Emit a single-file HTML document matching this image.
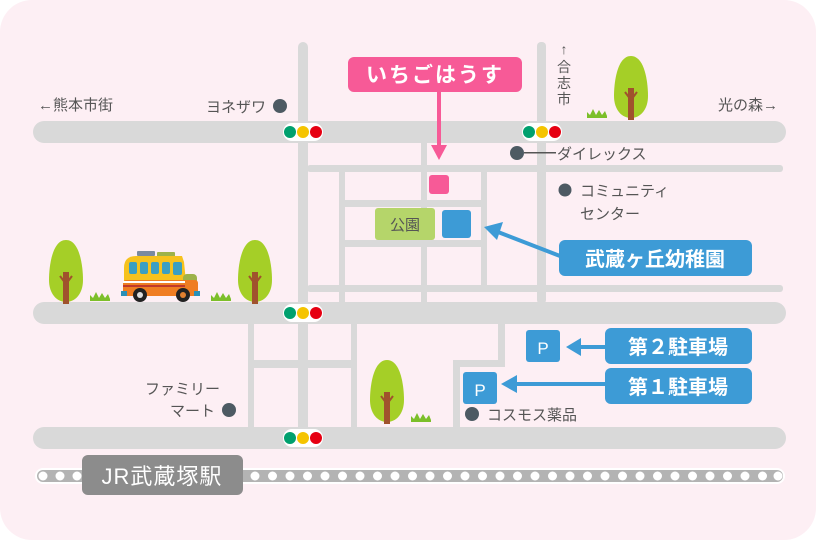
<!DOCTYPE html>
<html><head><meta charset="utf-8"><style>
html,body{margin:0;padding:0;background:#fff;}
svg{display:block;}
text{font-family:"Liberation Sans","Noto Sans CJK JP",sans-serif;}
</style></head><body>
<svg width="816" height="540" viewBox="0 0 816 540" xmlns="http://www.w3.org/2000/svg">
<defs>
<g id="tree">
 <path d="M0,-62 C-14,-62 -17,-35 -17,-22 C-17,-8 -9,0 0,0 C9,0 17,-8 17,-22 C17,-35 14,-62 0,-62Z" fill="#a5cf27"/>
 <rect x="-3" y="-30" width="6" height="30" fill="#a0522d"/>
 <path d="M0,-18 L-6,-26 M0,-18 L6,-26" stroke="#a0522d" stroke-width="2"/>
 <rect x="-3" y="-2" width="6" height="4" fill="#a0522d"/>
</g>
<g id="grass"><path d="M-10,0 L-10,-6 L-7,-3 L-4,-9 L-1,-3 L2,-8 L5,-3 L8,-7 L10,-2 L10,0Z" fill="#7cbf2a"/></g>
<g id="tl">
 <rect x="-20" y="-9" width="40" height="18" rx="9" fill="#fff"/>
 <circle cx="-13" cy="0" r="6" fill="#00a06e"/>
 <circle cx="0" cy="0" r="6" fill="#f5c400"/>
 <circle cx="13" cy="0" r="6" fill="#e60012"/>
</g>
<circle id="rd" r="4.5" fill="#fff"/>
</defs>
<rect x="0" y="0" width="816" height="540" rx="32" fill="#fdeff4"/>

<!-- thin roads -->
<g fill="#d9d9d9">
 <rect x="307" y="165" width="476" height="7" rx="3"/>
 <rect x="307" y="285" width="476" height="7" rx="3"/>
 <rect x="339" y="171" width="6" height="131"/>
 <rect x="421" y="143" width="6" height="159"/>
 <rect x="481" y="171" width="6" height="116"/>
 <rect x="341" y="200" width="145" height="7"/>
 <rect x="341" y="240" width="145" height="7"/>
 <rect x="248" y="324" width="6" height="104"/>
 <rect x="351" y="324" width="6" height="104"/>
 <rect x="250" y="360" width="106" height="8"/>
 <rect x="498" y="324" width="7" height="42"/>
 <rect x="453" y="360" width="52" height="7"/>
 <rect x="453" y="360" width="7" height="68"/>
 <rect x="298" y="42" width="10" height="395" rx="5"/>
 <rect x="537" y="42" width="9" height="262" rx="4"/>
 <rect x="33" y="121" width="753" height="22" rx="11"/>
 <rect x="33" y="302" width="753" height="22" rx="11"/>
 <rect x="33" y="427" width="753" height="22" rx="11"/>
</g>
<use href="#tl" x="303" y="132"/>
<use href="#tl" x="542" y="132"/>
<use href="#tl" x="303" y="313"/>
<use href="#tl" x="303" y="438"/>

<!-- rail -->
<rect x="35" y="468" width="750" height="16" rx="8" fill="#fff"/>
<rect x="37" y="470" width="746" height="12" rx="6" fill="#b3b3b3"/>
<use href="#rd" x="43" y="476"/><use href="#rd" x="60" y="476"/><use href="#rd" x="77" y="476"/>
<use href="#rd" x="255" y="476"/><use href="#rd" x="272.5" y="476"/><use href="#rd" x="290" y="476"/><use href="#rd" x="307.5" y="476"/>
<use href="#rd" x="325" y="476"/><use href="#rd" x="342.5" y="476"/><use href="#rd" x="360" y="476"/><use href="#rd" x="377.5" y="476"/>
<use href="#rd" x="395" y="476"/><use href="#rd" x="412.5" y="476"/><use href="#rd" x="430" y="476"/><use href="#rd" x="447.5" y="476"/>
<use href="#rd" x="465" y="476"/><use href="#rd" x="482.5" y="476"/><use href="#rd" x="500" y="476"/><use href="#rd" x="517.5" y="476"/>
<use href="#rd" x="535" y="476"/><use href="#rd" x="552.5" y="476"/><use href="#rd" x="570" y="476"/><use href="#rd" x="587.5" y="476"/>
<use href="#rd" x="605" y="476"/><use href="#rd" x="622.5" y="476"/><use href="#rd" x="640" y="476"/><use href="#rd" x="657.5" y="476"/>
<use href="#rd" x="675" y="476"/><use href="#rd" x="692.5" y="476"/><use href="#rd" x="710" y="476"/><use href="#rd" x="727.5" y="476"/>
<use href="#rd" x="745" y="476"/><use href="#rd" x="762.5" y="476"/><use href="#rd" x="778" y="476"/>
<rect x="82" y="455" width="161" height="40" rx="6" fill="#8c8c8c"/>
<text x="162" y="484" font-size="22" fill="#fff" text-anchor="middle" letter-spacing="1">JR武蔵塚駅</text>

<!-- labels -->
<g font-size="15" fill="#555">
 <text x="38" y="110">←熊本市街</text>
 <text x="266" y="112" text-anchor="end">ヨネザワ</text>
 <text x="778" y="110" text-anchor="end">光の森→</text>
 <text x="557" y="159">ダイレックス</text>
 <text x="580" y="196">コミュニティ</text>
 <text x="580" y="219">センター</text>
 <text x="220" y="394" text-anchor="end">ファミリー</text>
 <text x="215" y="416" text-anchor="end">マート</text>
 <text x="487" y="420">コスモス薬品</text>
 <text x="564" y="54" font-size="14" text-anchor="middle">↑</text>
 <text x="564" y="72" font-size="14" text-anchor="middle">合</text>
 <text x="564" y="88" font-size="14" text-anchor="middle">志</text>
 <text x="564" y="104" font-size="14" text-anchor="middle">市</text>
</g>
<g fill="#4d5a63">
 <circle cx="280" cy="106" r="7"/>
 <circle cx="517" cy="153" r="7"/>
 <circle cx="565" cy="190" r="6.5"/>
 <circle cx="229" cy="410" r="7"/>
 <circle cx="472" cy="414" r="7"/>
</g>
<rect x="524" y="152" width="32" height="1.5" fill="#555"/>

<!-- ichigo -->
<rect x="348" y="57" width="174" height="35" rx="6" fill="#f75a97"/>
<text x="435" y="82" font-size="21" font-weight="bold" fill="#fff" text-anchor="middle" letter-spacing="2">いちごはうす</text>
<rect x="437" y="92" width="4" height="54" fill="#f75a97"/>
<path d="M431,145 L447,145 L439,160Z" fill="#f75a97"/>
<rect x="429" y="175" width="20" height="19" rx="3" fill="#f75a97"/>

<!-- park / kindergarten -->
<rect x="375" y="208" width="60" height="32" rx="3" fill="#b5d56a"/>
<text x="405" y="230" font-size="15" fill="#555" text-anchor="middle">公園</text>
<rect x="442" y="210" width="29" height="28" rx="3" fill="#3d9bd6"/>
<line x1="560" y1="256" x2="498" y2="232" stroke="#3d9bd6" stroke-width="4"/>
<path d="M484,227 L503,222 L497,240Z" fill="#3d9bd6"/>
<rect x="559" y="240" width="193" height="36" rx="6" fill="#3d9bd6"/>
<text x="655" y="266" font-size="20" font-weight="bold" fill="#fff" text-anchor="middle">武蔵ヶ丘幼稚園</text>

<!-- parking -->
<rect x="526" y="330" width="34" height="32" rx="3" fill="#3d9bd6"/>
<text x="543" y="354" font-size="17" fill="#fff" text-anchor="middle">P</text>
<rect x="463" y="372" width="34" height="32" rx="3" fill="#3d9bd6"/>
<text x="480" y="396" font-size="17" fill="#fff" text-anchor="middle">P</text>
<rect x="578" y="345" width="28" height="4" fill="#3d9bd6"/>
<path d="M566,347 L581,338 L581,356Z" fill="#3d9bd6"/>
<rect x="512" y="382" width="94" height="4" fill="#3d9bd6"/>
<path d="M501,384 L517,375 L517,393Z" fill="#3d9bd6"/>
<rect x="605" y="328" width="147" height="36" rx="6" fill="#3d9bd6"/>
<text x="678" y="354" font-size="20" font-weight="bold" fill="#fff" text-anchor="middle">第２駐車場</text>
<rect x="605" y="368" width="147" height="36" rx="6" fill="#3d9bd6"/>
<text x="678" y="394" font-size="20" font-weight="bold" fill="#fff" text-anchor="middle">第１駐車場</text>

<!-- trees & grass -->
<use href="#tree" x="631" y="118"/>
<use href="#grass" x="597" y="118"/>
<use href="#tree" x="66" y="302"/>
<use href="#tree" x="255" y="302"/>
<use href="#grass" x="100" y="301"/>
<use href="#grass" x="221" y="301"/>
<use href="#tree" x="387" y="422"/>
<use href="#grass" x="421" y="422"/>

<!-- bus -->
<g>
 <rect x="137" y="251" width="18" height="5" rx="1" fill="#7a8aa0"/>
 <rect x="157" y="252" width="18" height="5" rx="1" fill="#9db24a"/>
 <path d="M124,268 Q124,256 136,256 L182,256 L184,262 L186,282 L124,282Z" fill="#f6c21d"/>
 <rect x="183" y="274" width="14" height="18" rx="4" fill="#9db24a"/>
 <rect x="123" y="280" width="75" height="16" rx="3" fill="#ef7d22"/>
 <rect x="123" y="281" width="62" height="2" fill="#fff"/>
 <rect x="123" y="285" width="62" height="2" fill="#c0392b"/>
 <g fill="#3a9fc2">
  <rect x="129" y="262" width="8" height="12" rx="2"/>
  <rect x="140" y="262" width="8" height="12" rx="2"/>
  <rect x="151" y="262" width="8" height="12" rx="2"/>
  <rect x="162" y="262" width="8" height="12" rx="2"/>
  <rect x="173" y="262" width="9" height="13" rx="2"/>
 </g>
 <rect x="121" y="291" width="6" height="5" fill="#2a90b8"/>
 <rect x="194" y="291" width="6" height="5" fill="#2a90b8"/>
 <circle cx="140" cy="295" r="7" fill="#222"/><circle cx="140" cy="295" r="3" fill="#ddd"/>
 <circle cx="183" cy="295" r="7" fill="#222"/><circle cx="183" cy="295" r="3" fill="#e08030"/>
</g>
</svg>
</body></html>
